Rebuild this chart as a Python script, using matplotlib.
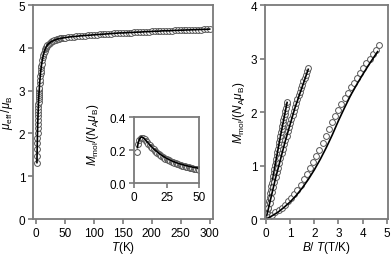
import numpy as np
import matplotlib
matplotlib.use("Agg")
import matplotlib.pyplot as plt

plt.rcParams['font.family'] = ['Liberation Sans', 'DejaVu Sans']
plt.rcParams['mathtext.fontset'] = 'custom'
plt.rcParams['mathtext.rm'] = 'Liberation Sans'
plt.rcParams['mathtext.it'] = 'Liberation Sans:italic'
plt.rcParams['font.size'] = 8.5

# mu_eff vs T (main left panel)
T = [1.8, 2.0, 2.2, 2.4, 2.6, 2.8, 3.0, 3.2, 3.4, 3.6, 3.8, 4.0, 4.2, 4.4, 4.6, 4.8,
     5.0, 5.2, 5.4, 5.6, 5.8, 6.0, 6.5, 7.0, 7.5, 8.0, 8.5, 9.0, 9.5, 10,
     11, 12, 13, 14, 15, 16, 17, 18, 19, 20, 22, 24, 26, 28, 30, 32, 34, 36, 38, 40,
     42, 44, 46, 48, 50, 55, 60, 65, 70, 75, 80, 85, 90, 95, 100, 105, 110, 115, 120,
     125, 130, 135, 140, 145, 150, 155, 160, 165, 170, 175, 180, 185, 190, 195, 200,
     205, 210, 215, 220, 225, 230, 235, 240, 245, 250, 255, 260, 265, 270, 275, 280,
     285, 290, 295, 300]
mu_eff = [1.32, 1.48, 1.63, 1.77, 1.90, 2.02, 2.13, 2.23, 2.32, 2.40, 2.48, 2.55, 2.62,
          2.68, 2.74, 2.80, 2.85, 2.90, 2.95, 2.99, 3.03, 3.07, 3.17, 3.26, 3.34, 3.41,
          3.47, 3.53, 3.58, 3.63, 3.71, 3.78, 3.84, 3.89, 3.93, 3.97, 4.00, 4.03, 4.05,
          4.07, 4.10, 4.12, 4.14, 4.155, 4.17, 4.18, 4.19, 4.20, 4.21, 4.215, 4.22,
          4.225, 4.23, 4.235, 4.24, 4.25, 4.26, 4.265, 4.27, 4.28, 4.285, 4.29, 4.295,
          4.30, 4.305, 4.31, 4.315, 4.32, 4.325, 4.33, 4.335, 4.34, 4.345, 4.35, 4.35,
          4.355, 4.36, 4.36, 4.365, 4.37, 4.37, 4.375, 4.38, 4.38, 4.385, 4.39, 4.39,
          4.395, 4.40, 4.40, 4.40, 4.405, 4.41, 4.41, 4.415, 4.415, 4.42, 4.42, 4.425,
          4.425, 4.43, 4.43, 4.435, 4.435, 4.44]

# inset: M vs T at low temperature
T_in = [2, 3, 4, 5, 6, 7, 8, 9, 10, 11, 12, 13, 14, 15, 16, 17, 18, 19, 20, 21, 22, 23,
        24, 25, 26, 27, 28, 29, 30, 31, 32, 33, 34, 35, 36, 37, 38, 39, 40, 41, 42, 43,
        44, 45, 46, 47, 48, 49, 50]
M_in = [0.19, 0.235, 0.26, 0.272, 0.275, 0.272, 0.265, 0.256, 0.247, 0.238, 0.229,
        0.220, 0.212, 0.204, 0.196, 0.189, 0.182, 0.176, 0.170, 0.164, 0.159, 0.154,
        0.149, 0.145, 0.141, 0.137, 0.133, 0.129, 0.126, 0.123, 0.120, 0.117, 0.114,
        0.111, 0.109, 0.106, 0.104, 0.102, 0.100, 0.098, 0.096, 0.094, 0.092, 0.090,
        0.088, 0.087, 0.085, 0.084, 0.082]
T_in_fit = [2.5, 3, 4, 5, 6, 7, 8, 10, 12, 15, 20, 25, 30, 35, 40, 45, 50]
M_in_fit = [0.215, 0.24, 0.265, 0.277, 0.279, 0.275, 0.268, 0.25, 0.232, 0.208, 0.175,
            0.150, 0.131, 0.117, 0.106, 0.097, 0.090]

# right panel: M vs B/T, three temperatures
x1 = [0, 0.025, 0.05, 0.075, 0.1, 0.125, 0.15, 0.175, 0.2, 0.225, 0.25, 0.275, 0.3,
      0.325, 0.35, 0.375, 0.4, 0.425, 0.45, 0.475, 0.5, 0.525, 0.55, 0.575, 0.6, 0.625,
      0.65, 0.675, 0.7, 0.725, 0.75, 0.775, 0.8, 0.825, 0.85, 0.875]
y1 = [0, 0.070, 0.139, 0.208, 0.277, 0.345, 0.413, 0.480, 0.547, 0.613, 0.679, 0.745,
      0.810, 0.875, 0.940, 1.004, 1.067, 1.130, 1.193, 1.255, 1.318, 1.379, 1.440,
      1.501, 1.561, 1.621, 1.681, 1.740, 1.798, 1.856, 1.914, 1.972, 2.029, 2.085,
      2.142, 2.197]
x1_fit = [0, 0.2, 0.4, 0.6, 0.875]
y1_fit = [0, 0.54, 1.06, 1.55, 2.18]

x2 = [0, 0.05, 0.1, 0.15, 0.2, 0.25, 0.3, 0.35, 0.4, 0.45, 0.5, 0.55, 0.6, 0.65, 0.7,
      0.75, 0.8, 0.85, 0.9, 0.95, 1.0, 1.05, 1.1, 1.15, 1.2, 1.25, 1.3, 1.35, 1.4, 1.45,
      1.5, 1.55, 1.6, 1.65, 1.7, 1.75]
y2 = [0, 0.102, 0.202, 0.302, 0.400, 0.497, 0.592, 0.687, 0.780, 0.872, 0.962, 1.052,
      1.140, 1.227, 1.312, 1.397, 1.480, 1.562, 1.642, 1.722, 1.800, 1.877, 1.952,
      2.027, 2.100, 2.172, 2.242, 2.312, 2.380, 2.447, 2.512, 2.577, 2.640, 2.702,
      2.762, 2.822]
x2_fit = [0, 0.4, 0.8, 1.2, 1.75]
y2_fit = [0, 0.77, 1.46, 2.08, 2.80]

x3 = [0, 0.13, 0.26, 0.39, 0.52, 0.65, 0.78, 0.91, 1.04, 1.17, 1.30, 1.43, 1.56, 1.69,
      1.82, 1.95, 2.08, 2.21, 2.34, 2.47, 2.60, 2.73, 2.86, 2.99, 3.12, 3.25, 3.38,
      3.51, 3.64, 3.77, 3.90, 4.03, 4.16, 4.29, 4.42, 4.55, 4.68]
y3 = [0, 0.04, 0.08, 0.125, 0.17, 0.215, 0.27, 0.33, 0.39, 0.47, 0.55, 0.64, 0.75,
      0.85, 0.96, 1.06, 1.18, 1.30, 1.43, 1.56, 1.69, 1.82, 1.93, 2.04, 2.15, 2.26,
      2.36, 2.46, 2.55, 2.64, 2.73, 2.82, 2.91, 2.99, 3.08, 3.17, 3.25]
x3_fit = [0, 0.25, 0.5, 0.75, 1.0, 1.25, 1.5, 1.75, 2.0, 2.25, 2.5, 2.75, 3.0, 3.25,
          3.5, 3.75, 4.0, 4.25, 4.5, 4.62]
y3_fit = [0, 0.06, 0.13, 0.22, 0.32, 0.44, 0.58, 0.74, 0.92, 1.12, 1.34, 1.58, 1.84,
          2.08, 2.31, 2.51, 2.70, 2.88, 3.05, 3.13]

spine_col = '#7a7a7a'
mk = dict(marker='o', ls='none', ms=4.2, mfc='white', mec='#555555', mew=0.7)


def style(ax):
    for s in ax.spines.values():
        s.set_color(spine_col)
        s.set_linewidth(1.3)
    ax.tick_params(direction='out', length=3.5, width=1.2, color=spine_col,
                   top=False, right=False, pad=2)


fig = plt.figure(figsize=(3.92, 2.55), dpi=100)

ax1 = fig.add_axes([0.0842, 0.137, 0.458, 0.839])
ax1.plot(T, mu_eff, **mk)
ax1.plot(T, mu_eff, color='black', lw=1.2)
ax1.set_xlim(-5, 305)
ax1.set_ylim(0, 5)
ax1.set_xticks([0, 50, 100, 150, 200, 250, 300])
ax1.set_yticks([0, 1, 2, 3, 4, 5])
ax1.set_xlabel(r'$T$(K)', labelpad=0)
ax1.set_ylabel(r'$\mu_{\rm eff}\,/\mu_{\rm B}$', labelpad=3)
style(ax1)

ax_in = fig.add_axes([0.3406, 0.278, 0.167, 0.259])
ax_in.plot(T_in, M_in, **mk)
ax_in.plot(T_in_fit, M_in_fit, color='black', lw=1.2)
ax_in.set_xlim(-0.5, 50)
ax_in.set_ylim(0, 0.4)
ax_in.set_xticks([0, 25, 50])
ax_in.set_yticks([0.0, 0.2, 0.4])
ax_in.set_yticklabels(['0.0', '0.2', '0.4'])
ax_in.set_ylabel(r'$M_{\rm mol}/(N_{\rm A}\mu_{\rm B})$')
ax_in.yaxis.set_label_coords(-0.5, 0.75)
style(ax_in)

ax2 = fig.add_axes([0.676, 0.137, 0.3138, 0.839])
for xs, ys, xf, yf in [(x1, y1, x1_fit, y1_fit), (x2, y2, x2_fit, y2_fit),
                       (x3, y3, x3_fit, y3_fit)]:
    ax2.plot(xs, ys, **mk)
    ax2.plot(xf, yf, color='black', lw=1.2)
ax2.set_xlim(-0.04, 5.05)
ax2.set_ylim(0, 4)
ax2.set_xticks([0, 1, 2, 3, 4, 5])
ax2.set_yticks([0, 1, 2, 3, 4])
ax2.set_xlabel(r'$B$/ $T$(T/K)', labelpad=0)
ax2.set_ylabel(r'$M_{\rm mol}/(N_{\rm A}\mu_{\rm B})$', labelpad=3)
style(ax2)

fig.savefig('out.png', dpi=100)
